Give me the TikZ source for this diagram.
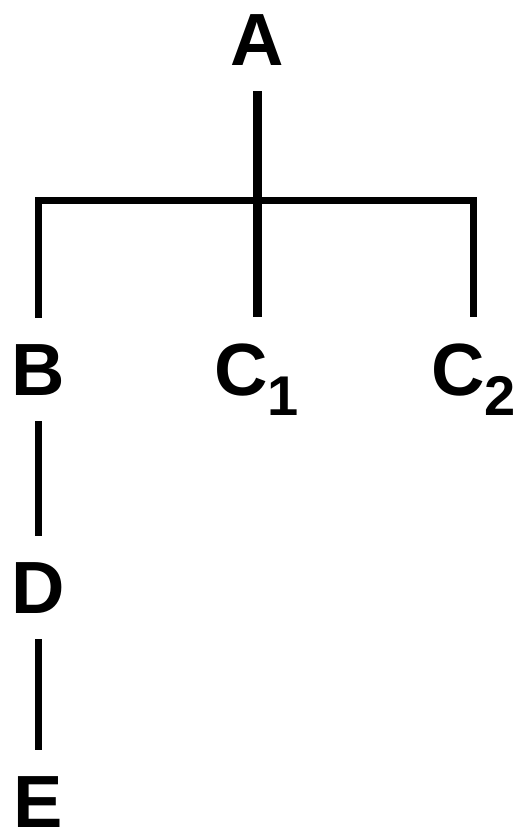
\documentclass[tikz,border=0pt]{standalone}
\usepackage{fontspec}
\setmainfont{Liberation Sans}
\usetikzlibrary{positioning}
\newcommand{\subidx}[1]{\raisebox{-10pt}{\fontsize{28}{30}\selectfont #1}}

\begin{document}
\begin{tikzpicture}[x=0.5pt, y=-0.5pt,
    letter/.style={font=\fontsize{37}{40}\selectfont\bfseries, inner sep=13pt},
    link/.style={line width=3.5pt}]
    \useasboundingbox (0,0) rectangle (515,831);

    % Letters
    \node[letter, anchor=base] (A) at (257, 65) {A};
    \node[letter, anchor=base] (B) at (38, 395) {B};
    \node[letter, anchor=base west, inner xsep=0pt] (C1) at (214, 395) {C\subidx{1}};
    \node[letter, anchor=base west, inner xsep=0pt] (C2) at (431, 395) {C\subidx{2}};
    \node[letter, anchor=base] (D) at (38, 613) {D};
    \node[letter, anchor=base, inner ysep=1pt] (E) at (38, 827) {E};
    \coordinate (bar) at (257, 200);

    % Tree lines
    \draw[link, line width=4.5pt] (A.south) -- (A.south |- C1.north);
    \draw[link] (B.north) -- (B.north |- bar) -- (C2.north |- bar) -- (C2.north);
    \draw[link] (B) -- (D);
    \draw[link, shorten >=12pt] (D) -- (E);
\end{tikzpicture}
\end{document}
